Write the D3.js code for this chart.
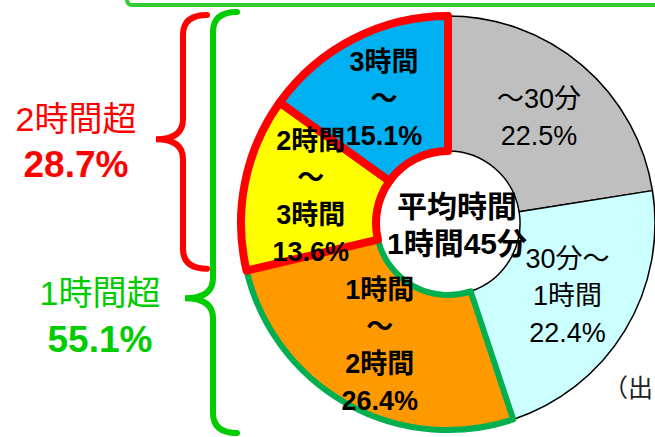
<!DOCTYPE html>
<html>
<head>
<meta charset="utf-8">
<script src="https://cdn.jsdelivr.net/npm/d3@7"></script>
<style>
  body { margin: 0; background: #fff; }
  svg { display: block; font-family: "Liberation Sans", "Noto Sans CJK JP", sans-serif; }
</style>
</head>
<body>
<div id="chart"></div>
<script>
// slices clockwise from 12 o'clock
const categories = ["～30分", "30分～1時間", "1時間～2時間", "2時間～3時間", "3時間～"];
const shares = [22.5, 22.4, 26.4, 13.6, 15.1];
const labelLines = [["～30分"], ["30分～", "1時間"], ["1時間", "～", "2時間"], ["2時間", "～", "3時間"], ["3時間", "～"]];
const fills = ["#BFBFBF", "#CCFFFF", "#FF9900", "#FFFF00", "#00B0F0"];
const centerLines = ["平均時間", "1時間45分"];
const groupNames = ["2時間超", "1時間超"];
const groupMembers = [[3, 4], [2, 3, 4]];
const sourceText = "（出";

const width = 655, height = 437;
const cx = 448, cy = 223, R = 207, r0 = 72;

const svg = d3.select("#chart").append("svg")
    .attr("width", width)
    .attr("height", height);

// green frame of the box above
svg.append("rect")
    .attr("x", 127).attr("y", -40)
    .attr("width", 600).attr("height", 45)
    .attr("rx", 5)
    .attr("fill", "none")
    .attr("stroke", "#33CC33")
    .attr("stroke-width", 4);

const pie = d3.pie().sort(null).value(d => d)(shares);
const arc = d3.arc().innerRadius(r0).outerRadius(R);
const labelArc = d3.arc().innerRadius(140).outerRadius(140);

const g = svg.append("g").attr("transform", `translate(${cx},${cy})`);

// stroke per slice: plain, green (1h-2h), red (2h+)
function strokeOf(i) {
    if (i >= 3) return ["#FF0000", 8];
    if (i === 2) return ["#00B050", 6];
    return ["#000", 1.5];
}
pie.forEach((p, i) => {
    const [col, w] = strokeOf(i);
    g.append("path")
        .attr("d", arc(p))
        .attr("fill", fills[i])
        .attr("stroke", col)
        .attr("stroke-width", w)
        .attr("stroke-linejoin", "round");
});

// slice labels
const lh = 37;
pie.forEach((p, i) => {
    const [x, y] = labelArc.centroid(p);
    const lines = labelLines[i].concat([shares[i].toFixed(1) + "%"]);
    const t = g.append("text")
        .attr("text-anchor", "middle")
        .attr("font-size", 27)
        .attr("font-weight", i >= 2 ? "bold" : "normal")
        .attr("fill", "#000");
    lines.forEach((s, k) => {
        t.append("tspan")
            .attr("x", x)
            .attr("y", y + (k - (lines.length - 1) / 2) * lh)
            .attr("dy", "0.35em")
            .text(s);
    });
});

// center text
const ct = g.append("text")
    .attr("text-anchor", "middle")
    .attr("font-size", 30)
    .attr("font-weight", "bold")
    .attr("fill", "#000");
centerLines.forEach((s, k) => {
    ct.append("tspan")
        .attr("x", 9)
        .attr("y", -17 + k * 37)
        .attr("dy", "0.35em")
        .text(s);
});

// braces: span from top of donut to lowest point of the grouped slices
function lowestY(idx) {
    let maxY = -Infinity;
    idx.forEach(i => {
        const a0 = pie[i].startAngle, a1 = pie[i].endAngle;
        [a0, a1].forEach(a => { maxY = Math.max(maxY, -R * Math.cos(a)); });
        if (a0 <= Math.PI && a1 >= Math.PI) maxY = R;
    });
    return cy + maxY;
}

function brace(x0, top, bottom, tipY, depth, curl, rr) {
    return `M${x0 + curl},${top}` +
        ` Q${x0},${top} ${x0},${top + rr}` +
        ` L${x0},${tipY - rr}` +
        ` Q${x0},${tipY} ${x0 - depth},${tipY}` +
        ` Q${x0},${tipY} ${x0},${tipY + rr}` +
        ` L${x0},${bottom - rr}` +
        ` Q${x0},${bottom} ${x0 + curl},${bottom}`;
}

const braceSpec = [
    { color: "#FF0000", x0: 183, top: 15, tipFrac: 0.49, depth: 27, labelX: 76, nameY: 119, pctY: 164 },
    { color: "#00CC00", x0: 213, top: 12, tipFrac: 0.68, depth: 28, labelX: 100, nameY: 293, pctY: 339 }
];

braceSpec.forEach((b, j) => {
    const bottom = j === 0 ? lowestY(groupMembers[j]) - 2 : lowestY(groupMembers[j]) + 3;
    const tipY = b.top + (bottom - b.top) * b.tipFrac;
    svg.append("path")
        .attr("d", brace(b.x0, b.top, bottom, tipY, b.depth, 24, 20))
        .attr("fill", "none")
        .attr("stroke", b.color)
        .attr("stroke-width", 6)
        .attr("stroke-linecap", "round");
    const total = d3.sum(groupMembers[j], i => shares[i]);
    svg.append("text")
        .attr("x", b.labelX).attr("y", b.nameY)
        .attr("dy", "0.35em")
        .attr("text-anchor", "middle")
        .attr("font-size", 34)
        .attr("fill", b.color)
        .text(groupNames[j]);
    svg.append("text")
        .attr("x", b.labelX).attr("y", b.pctY)
        .attr("dy", "0.35em")
        .attr("text-anchor", "middle")
        .attr("font-size", 37)
        .attr("font-weight", "bold")
        .attr("fill", b.color)
        .text(total.toFixed(1) + "%");
});

// source note at the right edge
svg.append("text")
    .attr("x", 603).attr("y", 388)
    .attr("dy", "0.35em")
    .attr("font-size", 25)
    .attr("fill", "#222")
    .text(sourceText);
</script>
</body>
</html>
